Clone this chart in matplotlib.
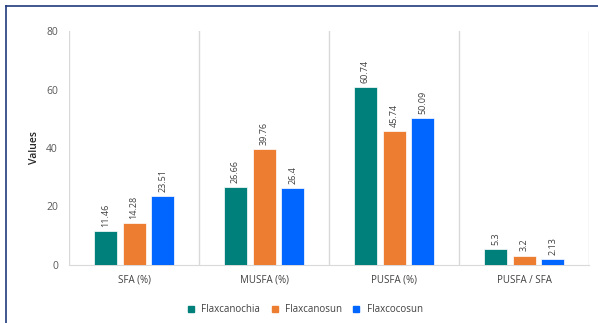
import numpy as np
import matplotlib.pyplot as plt
from matplotlib.lines import Line2D

# datos
categorias = ["SFA (%)", "MUSFA (%)", "PUSFA (%)", "PUSFA / SFA"]
flaxcanochia = [11.46, 26.66, 60.74, 5.3]
flaxcanosun = [14.28, 39.76, 45.74, 3.2]
flaxcocosun = [23.51, 26.4, 50.09, 2.13]
series = ["Flaxcanochia", "Flaxcanosun", "Flaxcocosun"]
colores = ["#00807A", "#ED7D31", "#0066FF"]

plt.rcParams['font.family'] = ['Open Sans', 'DejaVu Sans']

fig = plt.figure(figsize=(5.98, 3.23), dpi=100)
ax = fig.add_axes([0.1154, 0.1796, 0.8696, 0.7244])

x = np.arange(len(categorias))
ancho = 0.177
paso = 0.22
valores = [flaxcanochia, flaxcanosun, flaxcocosun]
for i, (vals, col) in enumerate(zip(valores, colores)):
    pos = x + (i - 1) * paso
    ax.bar(pos, vals, ancho, color=col, edgecolor="white", linewidth=0.5, zorder=3)
    for xp, v in zip(pos, vals):
        ax.annotate(str(v), (xp, v), xytext=(0, 3), textcoords="offset points",
                    rotation=90, ha="center", va="bottom", fontsize=6.5, color="#404040")

ax.set_xlim(-0.5, len(categorias) - 0.5)
ax.set_ylim(0, 80)
ax.set_yticks([0, 20, 40, 60, 80])
ax.set_xticks(x)
ax.set_xticklabels(categorias, fontsize=7, color="#404040")
ax.tick_params(axis="y", labelsize=7.5, colors="#595959", length=0, pad=8)
ax.tick_params(axis="x", length=0, pad=7)

# separadores entre categorias
for b in np.arange(-0.5, len(categorias), 1.0):
    ax.axvline(b, color="#D9D9D9", linewidth=1, zorder=1)

for s in ["top", "right", "left"]:
    ax.spines[s].set_visible(False)
ax.spines["bottom"].set_color("#D9D9D9")

ax.set_ylabel("Values", fontsize=7.5, color="#262626", labelpad=4, fontweight="semibold")

handles = [Line2D([], [], marker="s", linestyle="none", markersize=5, color=c) for c in colores]
fig.legend(handles, series, loc="center", bbox_to_anchor=(0.505, 0.042), ncol=3,
           frameon=False, fontsize=7, handletextpad=0.05, columnspacing=0.5,
           labelcolor="#404040")

# borde exterior
fig.add_artist(Line2D([0.010, 0.010], [0, 0.981], color="#1F3A7A", linewidth=1.2))
fig.add_artist(Line2D([0.010, 1], [0.981, 0.981], color="#1F3A7A", linewidth=1.2))

fig.savefig("out.png", dpi=100)
